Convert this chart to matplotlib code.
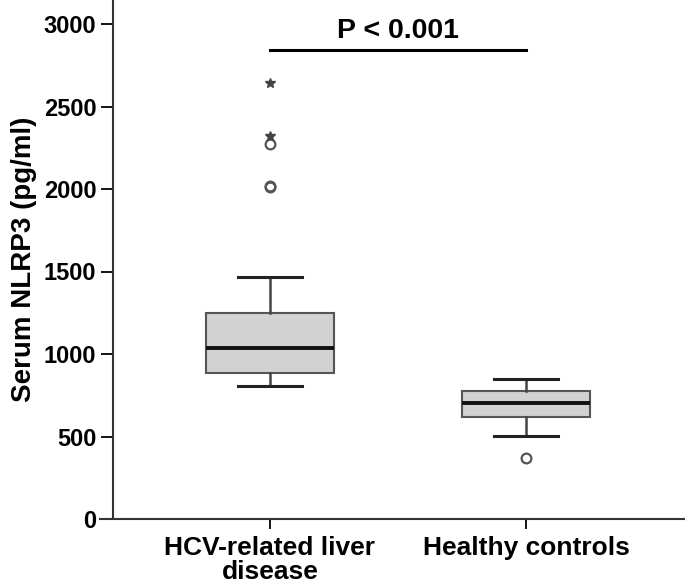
import matplotlib
matplotlib.use("Agg")
import matplotlib.pyplot as plt

# Box summary values (pg/ml)
groups = ["HCV-related liver\ndisease", "Healthy controls"]
q1 = [885, 618]
medians = [1036, 703]
q3 = [1248, 776]
whisker_low = [806, 503]
whisker_high = [1467, 848]
outliers_circle = [[2010, 2020, 2273], [370]]
outliers_star = [[2321, 2642], []]
p_text = "P < 0.001"
p_level = 2842

plt.rcParams["font.family"] = ["Liberation Sans", "DejaVu Sans"]
plt.rcParams["font.weight"] = "bold"

fig = plt.figure(figsize=(6.85, 5.84), dpi=100)
ax = fig.add_axes([100 / 685, 65 / 584, 585 / 685, 519 / 584])

stats = []
for i, name in enumerate(groups):
    stats.append({
        "label": name,
        "q1": q1[i], "med": medians[i], "q3": q3[i],
        "whislo": whisker_low[i], "whishi": whisker_high[i],
        "fliers": outliers_circle[i],
    })

pos = [1, 2]
ax.bxp(stats, positions=pos, widths=0.5, patch_artist=True,
       boxprops=dict(facecolor="#d2d2d2", edgecolor="#555555", linewidth=1.5),
       medianprops=dict(color="#111111", linewidth=2.8),
       whiskerprops=dict(color="#444444", linewidth=1.8),
       capprops=dict(color="#222222", linewidth=2.2),
       capwidths=0.25,
       flierprops=dict(marker="o", markerfacecolor="none", markeredgecolor="#555555",
                       markeredgewidth=1.6, markersize=7))

for i, vals in enumerate(outliers_star):
    if vals:
        ax.plot([pos[i]] * len(vals), vals, linestyle="none", marker="*",
                color="#444444", markersize=7)

# significance bar
ax.plot(pos, [p_level, p_level], color="black", linewidth=2.2)
ax.text(1.5, p_level + 75, p_text, ha="center", va="baseline", fontsize=20.5, fontweight="bold")

x_left = 1 - (270 - 100) / 256
ax.set_xlim(x_left, 2 + (685 - 526) / 256)
ax.set_ylim(0, 3000 * 519 / 495)
ax.spines["left"].set_position(("data", 1 - (270 - 113) / 256))
ax.spines["top"].set_visible(False)
ax.spines["right"].set_visible(False)
for s in ["left", "bottom"]:
    ax.spines[s].set_linewidth(1.5)
    ax.spines[s].set_color("#333333")

ax.set_yticks([0, 500, 1000, 1500, 2000, 2500, 3000])
ax.set_xticks(pos)
ax.set_xticklabels(groups, fontsize=19, fontweight="bold", linespacing=1.0)
ax.tick_params(axis="y", labelsize=17, length=9, width=1.3, pad=3)
ax.tick_params(axis="x", length=7, width=1.3, pad=5)
ax.set_ylabel("Serum NLRP3 (pg/ml)", fontsize=20, fontweight="bold", labelpad=5)

fig.savefig("out.png", dpi=100)
